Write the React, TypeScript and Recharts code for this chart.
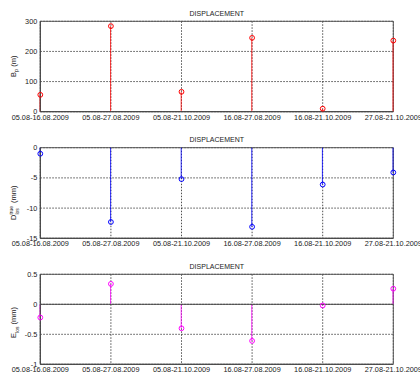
import React from 'react';
import {
  ComposedChart,
  Bar,
  Line,
  XAxis,
  YAxis,
  CartesianGrid,
  ReferenceArea,
  ReferenceLine,
  Customized,
} from 'recharts';

const categories = [
  '05.08-16.08.2009',
  '05.08-27.08.2009',
  '05.08-21.10.2009',
  '16.08-27.08.2009',
  '16.08-21.10.2009',
  '27.08-21.10.2009',
];
const xIndex = [0, 1, 2, 3, 4, 5];
const bpValues = [56, 284, 66, 245, 10, 236];
const dTrueValues = [-1.0, -12.3, -5.2, -13.1, -6.1, -4.1];
const eLosValues = [-0.22, 0.34, -0.4, -0.61, -0.02, 0.26];

const bpTicks = [0, 100, 200, 300];
const dTicks = [-15, -10, -5, 0];
const eTicks = [-1, -0.5, 0, 0.5];

const FONT = '"Liberation Sans", Arial, sans-serif';
const W = 420;
const PLOT_LEFT = 40.3;
const PLOT_RIGHT = 393.3;

const mkData = (vals: number[]) => xIndex.map((x, i) => ({ x, v: vals[i] }));

const Stem = (color: string) => (props: any) => {
  const { x, y, width, height } = props;
  if (x == null || y == null) return null;
  const cx = x + width / 2;
  return <line x1={cx} x2={cx} y1={y} y2={y + height} stroke={color} strokeWidth={1} strokeOpacity={0.8} />;
};

type PanelProps = {
  top: number;
  height: number;
  plotTop: number;
  plotBottom: number;
  values: number[];
  color: string;
  domain: [number, number];
  ticks: number[];
  label: (plotTop: number) => React.ReactNode;
  zeroLine?: boolean;
  tickMargin: number;
};

const Panel = ({ top, height, plotTop, plotBottom, values, color, domain, ticks, label, zeroLine, tickMargin }: PanelProps) => {
  const data = mkData(values);
  const cx = (PLOT_LEFT + PLOT_RIGHT) / 2;
  return (
    <div style={{ position: 'absolute', left: 0, top, width: W, height }}>
      <ComposedChart
        width={W}
        height={height}
        data={data}
        margin={{ top: plotTop, right: W - PLOT_RIGHT, left: 0, bottom: 0 }}
        style={{ fontFamily: FONT }}
      >
        <CartesianGrid stroke="#222" strokeDasharray="1.5 1.5" strokeWidth={0.8} />
        <XAxis
          dataKey="x"
          type="number"
          domain={[0, 5]}
          ticks={xIndex}
          interval={0}
          tickFormatter={(v: number) => categories[v]}
          tickLine={false}
          tickSize={0}
          tickMargin={tickMargin}
          height={height - plotBottom}
          axisLine={{ stroke: '#444' }}
          tick={{ fontSize: 7.3, fill: '#222', fontFamily: FONT }}
        />
        <YAxis
          type="number"
          domain={domain}
          ticks={ticks}
          interval={0}
          width={PLOT_LEFT}
          tickLine={false}
          tickSize={0}
          tickMargin={3}
          axisLine={{ stroke: '#444' }}
          tick={{ fontSize: 7.3, fill: '#222', fontFamily: FONT }}
        />
        <ReferenceArea x1={0} x2={5} y1={domain[0]} y2={domain[1]} fill="none" fillOpacity={0} stroke="#555" strokeWidth={1} />
        {zeroLine && <ReferenceLine y={0} stroke="#444" strokeWidth={1} />}
        <Bar dataKey="v" barSize={2} shape={Stem(color)} isAnimationActive={false} />
        <Line
          dataKey="v"
          stroke="none"
          dot={{ r: 2.4, stroke: color, fill: 'none', strokeWidth: 1 }}
          activeDot={false}
          isAnimationActive={false}
        />
        <Customized
          component={() => (
            <g>
              <text x={cx} y={plotTop - 5.5} textAnchor="middle" fontSize={7} fill="#222" fontFamily={FONT}>
                DISPLACEMENT
              </text>
              {label(plotTop)}
            </g>
          )}
        />
      </ComposedChart>
    </div>
  );
};

const labelBp = () => (
  <text transform="translate(15.5,77) rotate(-90)" textAnchor="start" fontSize={7.5} fill="#222" fontFamily={FONT}>
    <tspan>B</tspan>
    <tspan dy={2} fontSize={5.5}>p</tspan>
    <tspan dy={-2}> (m)</tspan>
  </text>
);

const labelD = () => (
  <text transform="translate(16,94) rotate(-90)" textAnchor="start" fontSize={7.5} fill="#222" fontFamily={FONT}>
    <tspan>D</tspan>
    <tspan dy={-3} fontSize={5}>true</tspan>
    <tspan dx={-8.6} dy={5.5} fontSize={5}>los</tspan>
    <tspan dy={-2.5} dx={3}> (mm)</tspan>
  </text>
);

const labelE = () => (
  <text transform="translate(16,86) rotate(-90)" textAnchor="start" fontSize={7.5} fill="#222" fontFamily={FONT}>
    <tspan>E</tspan>
    <tspan dy={2.5} fontSize={5}>los</tspan>
    <tspan dy={-2.5}> (mm)</tspan>
  </text>
);

export default function App() {
  return (
    <div style={{ position: 'absolute', left: 0, top: 0, width: W, height: 376, background: '#fff' }}>
      <Panel
        top={0}
        height={126}
        plotTop={21.3}
        plotBottom={111.7}
        values={bpValues}
        color="#ff0000"
        domain={[0, 300]}
        ticks={bpTicks}
        label={labelBp}
        tickMargin={3}
      />
      <Panel
        top={126}
        height={126}
        plotTop={21.7}
        plotBottom={112.3}
        values={dTrueValues}
        color="#0000ff"
        domain={[-15, 0]}
        ticks={dTicks}
        label={labelD}
        tickMargin={2.5}
      />
      <Panel
        top={252}
        height={124}
        plotTop={22.3}
        plotBottom={112.3}
        values={eLosValues}
        color="#ff00ff"
        domain={[-1, 0.5]}
        ticks={eTicks}
        label={labelE}
        zeroLine
        tickMargin={2.5}
      />
    </div>
  );
}
